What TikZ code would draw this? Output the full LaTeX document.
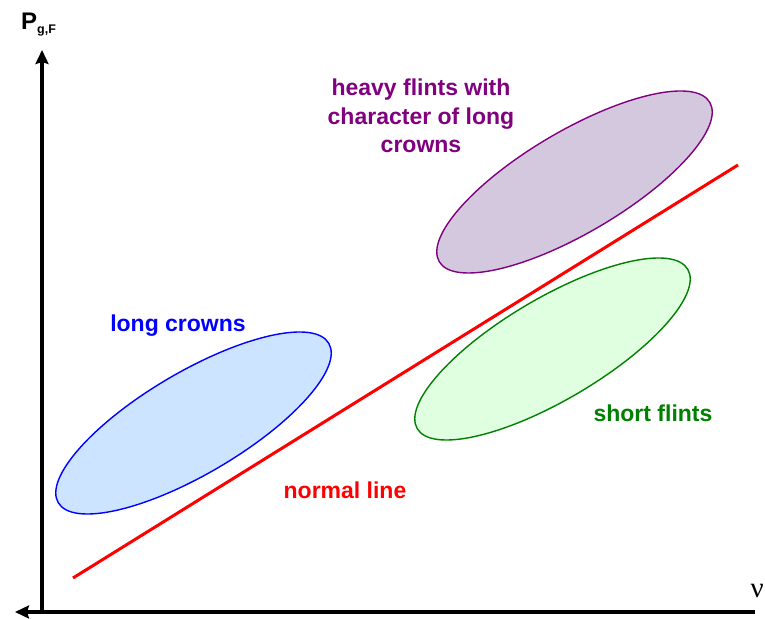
\documentclass[tikz,border=0pt]{standalone}
\usepackage{fontspec}
\setmainfont{Liberation Sans}
\newfontfamily\nufont{Liberation Serif}
\usetikzlibrary{arrows.meta,shapes.geometric}
\definecolor{blfill}{RGB}{204,228,255}
\definecolor{pufill}{RGB}{212,200,223}
\definecolor{grfill}{RGB}{224,255,224}
\definecolor{pustroke}{RGB}{128,0,128}
\definecolor{grstroke}{RGB}{0,128,0}
\tikzset{
  axis/.style={line width=3.2pt,-{Stealth[length=14pt,width=13pt,inset=2pt]}},
  region/.style={ellipse,inner sep=0pt,minimum width=314pt,minimum height=102pt,rotate=30.5,line width=1.4pt},
  lbl/.style={font=\fontsize{23}{28.5}\selectfont\bfseries,inner sep=0pt,anchor=base}
}
\begin{document}
\begin{tikzpicture}[x=1pt,y=1pt]
\useasboundingbox (0,0) rectangle (765,618);
% axes
\coordinate (origin) at (42,6);
\coordinate (ytip) at (42,568);
\coordinate (xright) at (755,6);
\coordinate (xtip) at (15,6);
\draw[axis] (origin) -- (ytip);
\draw[axis] (xright) -- (xtip);
\node[anchor=base west,inner sep=0pt,font=\fontsize{24}{24}\selectfont\bfseries] (ylab) at (21,588) {P\raisebox{-4pt}{\fontsize{12.5}{12.5}\selectfont\bfseries g,F}};
\node[anchor=base east,inner sep=0pt,font=\fontsize{29}{29}\selectfont\nufont] (xlab) at (764,20) {ν};
% regions
\node[region,draw=blue,fill=blfill] (lc) at (193.5,195) {};
\node[region,draw=pustroke,fill=pufill] (hf) at (574.5,436) {};
\node[region,draw=grstroke,fill=grfill] (sf) at (552.5,269) {};
% normal line
\coordinate (nl1) at (73,40);
\coordinate (nl2) at (738,453);
\draw[red,line width=3pt] (nl1) -- (nl2);
% labels
\node[lbl,text=blue] (lcl) at (178,286) {long crowns};
\node[lbl,text=pustroke,align=center,anchor=center] (hfl) at (421,502) {heavy flints with\\character of long\\crowns};
\node[lbl,text=grstroke] (sfl) at (653,196) {short flints};
\node[lbl,text=red] (nll) at (345,119) {normal line};
\end{tikzpicture}
\end{document}
